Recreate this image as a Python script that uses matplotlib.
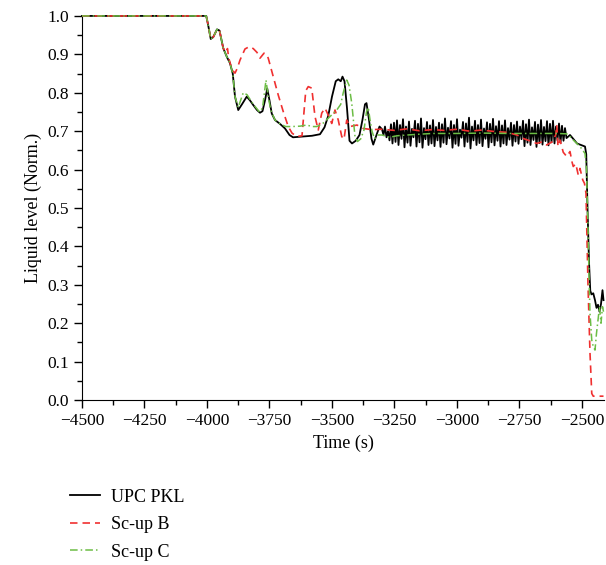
import numpy as np
import matplotlib
matplotlib.use('Agg')
import matplotlib.pyplot as plt
from matplotlib.ticker import MultipleLocator

plt.rcParams['font.family'] = ['Liberation Serif', 'DejaVu Serif']

# UPC PKL experiment, transient part before the oscillating plateau
pkl_t = [-4500, -4003, -3995, -3985, -3975, -3960, -3950, -3935, -3921, -3908,
         -3897, -3888, -3875, -3860, -3841, -3828, -3815, -3800, -3788, -3778,
         -3768, -3759, -3750, -3741, -3728, -3708, -3688, -3670, -3656, -3620,
         -3580, -3548, -3530, -3515, -3500, -3485, -3475, -3465, -3458, -3450,
         -3440, -3430, -3420, -3405, -3390, -3378, -3368, -3362, -3352, -3342,
         -3335, -3322, -3310]
pkl_v = [1.0, 1.0, 0.975, 0.94, 0.945, 0.965, 0.962, 0.916, 0.894, 0.877,
         0.85, 0.79, 0.755, 0.77, 0.79, 0.78, 0.768, 0.755, 0.748, 0.752,
         0.78, 0.811, 0.78, 0.746, 0.729, 0.719, 0.707, 0.69, 0.684, 0.686,
         0.688, 0.692, 0.71, 0.74, 0.79, 0.83, 0.835, 0.83, 0.842, 0.83,
         0.76, 0.675, 0.668, 0.675, 0.69, 0.73, 0.77, 0.773, 0.73, 0.68,
         0.665, 0.69, 0.712]

# oscillating plateau, sampled every 6 s from -3300 s
pkl_osc = [0.705, 0.690, 0.712, 0.684, 0.700, 0.676, 0.718, 0.668, 0.722, 0.672,
           0.728, 0.664, 0.716, 0.680, 0.731, 0.658, 0.712, 0.670, 0.725, 0.662,
           0.706, 0.684, 0.727, 0.660, 0.719, 0.671, 0.733, 0.657, 0.708, 0.679,
           0.724, 0.664, 0.715, 0.668, 0.729, 0.661, 0.711, 0.676, 0.722, 0.659,
           0.718, 0.670, 0.733, 0.666, 0.709, 0.681, 0.726, 0.657, 0.716, 0.667,
           0.731, 0.662, 0.704, 0.683, 0.724, 0.660, 0.720, 0.672, 0.735, 0.655,
           0.712, 0.676, 0.727, 0.664, 0.716, 0.669, 0.730, 0.661, 0.707, 0.680,
           0.723, 0.658, 0.719, 0.671, 0.732, 0.663, 0.713, 0.675, 0.726, 0.660,
           0.715, 0.668, 0.728, 0.664, 0.708, 0.678, 0.722, 0.662, 0.716, 0.673,
           0.725, 0.667, 0.712, 0.679, 0.727, 0.661, 0.718, 0.670, 0.730, 0.664,
           0.710, 0.677, 0.724, 0.659, 0.717, 0.669, 0.729, 0.665, 0.711, 0.674,
           0.726, 0.663, 0.719, 0.671, 0.727, 0.668, 0.712, 0.676, 0.720, 0.670,
           0.714, 0.675, 0.708, 0.682]
osc_t0, osc_dt = -3300, 6

# level drop at the end
pkl_end_t = [-2548, -2535, -2520, -2500, -2488, -2483, -2478, -2472, -2467, -2462,
             -2455, -2448, -2442, -2436, -2430, -2424, -2418, -2414]
pkl_end_v = [0.69, 0.68, 0.668, 0.663, 0.66, 0.64, 0.5, 0.36, 0.285, 0.275,
             0.278, 0.26, 0.24, 0.248, 0.23, 0.25, 0.286, 0.26]

# calculation B
b_t = [-4500, -4003, -3995, -3985, -3975, -3960, -3950, -3935, -3925, -3918,
       -3913, -3900, -3888, -3878, -3868, -3848, -3831, -3815, -3800, -3788,
       -3772, -3762, -3755, -3735, -3715, -3695, -3675, -3660, -3641, -3620,
       -3612, -3605, -3595, -3581, -3568, -3555, -3541, -3528, -3515, -3501,
       -3488, -3475, -3461, -3452, -3441, -3428, -3400, -3375, -3340, -3300,
       -3250, -3200, -3150, -3100, -3050, -3000, -2950, -2900, -2850, -2800,
       -2760, -2735, -2710, -2681, -2660, -2641, -2620, -2605, -2601, -2596,
       -2588, -2575, -2561, -2548, -2540, -2535, -2525, -2515, -2508, -2497,
       -2490, -2484, -2476, -2468, -2461, -2455, -2414]
b_v = [1.0, 1.0, 0.975, 0.94, 0.945, 0.965, 0.962, 0.916, 0.905, 0.915,
       0.89, 0.86, 0.851, 0.865, 0.885, 0.914, 0.92, 0.915, 0.905, 0.89,
       0.903, 0.9, 0.89, 0.842, 0.794, 0.751, 0.712, 0.695, 0.686, 0.688,
       0.75, 0.805, 0.816, 0.812, 0.738, 0.703, 0.747, 0.76, 0.742, 0.72,
       0.755, 0.729, 0.686, 0.679, 0.729, 0.712, 0.716, 0.707, 0.704, 0.705,
       0.702, 0.706, 0.701, 0.704, 0.702, 0.705, 0.700, 0.703, 0.699, 0.697,
       0.69, 0.681, 0.675, 0.668, 0.672, 0.664, 0.672, 0.69, 0.716, 0.66,
       0.677, 0.645, 0.634, 0.647, 0.62, 0.608, 0.615, 0.586, 0.603, 0.573,
       0.564, 0.538, 0.3, 0.122, 0.017, 0.01, 0.01]

# calculation C
c_t = [-4500, -4003, -3995, -3985, -3975, -3960, -3950, -3935, -3921, -3908,
       -3897, -3888, -3875, -3855, -3840, -3815, -3790, -3778, -3764, -3755,
       -3745, -3728, -3705, -3685, -3660, -3628, -3601, -3580, -3561, -3540,
       -3508, -3481, -3465, -3455, -3441, -3432, -3421, -3408, -3398, -3385,
       -3372, -3362, -3355, -3348, -3340, -3330, -3318, -3300, -3270, -3240,
       -3200, -3150, -3100, -3000, -2900, -2800, -2700, -2600, -2561, -2548,
       -2535, -2508, -2488, -2482, -2476, -2471, -2468, -2461, -2455, -2448,
       -2442, -2436, -2430, -2424, -2418, -2414]
c_v = [1.0, 1.0, 0.975, 0.94, 0.945, 0.965, 0.962, 0.916, 0.894, 0.877,
       0.85, 0.79, 0.762, 0.80, 0.795, 0.77, 0.75, 0.76, 0.833, 0.79,
       0.755, 0.729, 0.718, 0.712, 0.712, 0.713, 0.716, 0.712, 0.712, 0.718,
       0.738, 0.755, 0.77, 0.8, 0.833, 0.82, 0.773, 0.686, 0.673, 0.68,
       0.703, 0.75, 0.762, 0.73, 0.7, 0.68, 0.69, 0.69, 0.684, 0.688,
       0.69, 0.692, 0.694, 0.694, 0.695, 0.694, 0.694, 0.694, 0.693, 0.686,
       0.677, 0.66, 0.642, 0.6, 0.45, 0.295, 0.226, 0.156, 0.139, 0.13,
       0.174, 0.208, 0.243, 0.2, 0.243, 0.23]

osc_t = osc_t0 + osc_dt * np.arange(len(pkl_osc))
pkl_all_t = np.concatenate([pkl_t, osc_t, pkl_end_t])
pkl_all_v = np.concatenate([pkl_v, pkl_osc, pkl_end_v])

fig = plt.figure(figsize=(6.06, 5.65), dpi=100)
ax = fig.add_axes([0.1353, 0.292, 0.8614, 0.6798])

ax.plot(pkl_all_t, pkl_all_v, color='black', lw=1.3, label='UPC PKL', clip_on=False, zorder=3)
ax.plot(b_t, b_v, color='#f03030', lw=1.2, dashes=(4.5, 3), label='Sc-up B', clip_on=False, zorder=4)
ax.plot(c_t, c_v, color='#6cbd45', lw=1.1, dashes=(5, 2, 1, 2), label='Sc-up C', clip_on=False, zorder=5)

ax.set_xlim(-4500, -2412)
ax.set_ylim(0, 1.0)
ax.xaxis.set_major_locator(MultipleLocator(250))
ax.xaxis.set_minor_locator(MultipleLocator(125))
ax.yaxis.set_major_locator(MultipleLocator(0.1))
ax.yaxis.set_minor_locator(MultipleLocator(0.05))
ax.yaxis.set_major_formatter(plt.FormatStrFormatter('%.1f'))
ax.tick_params(which='major', direction='out', length=6, width=1, labelsize=12.5)
ax.tick_params(which='minor', direction='out', length=3.5, width=1)
for s in ['top', 'right']:
    ax.spines[s].set_visible(False)

ax.set_xlabel('Time (s)', fontsize=13)
ax.set_ylabel('Liquid level (Norm.)', fontsize=13)

fig.legend(loc='upper left', bbox_to_anchor=(0.100, 0.151), frameon=False,
           fontsize=13, handlelength=1.7, handletextpad=0.6, labelspacing=0.58,
           borderpad=0)

fig.savefig('out.png', dpi=100)
